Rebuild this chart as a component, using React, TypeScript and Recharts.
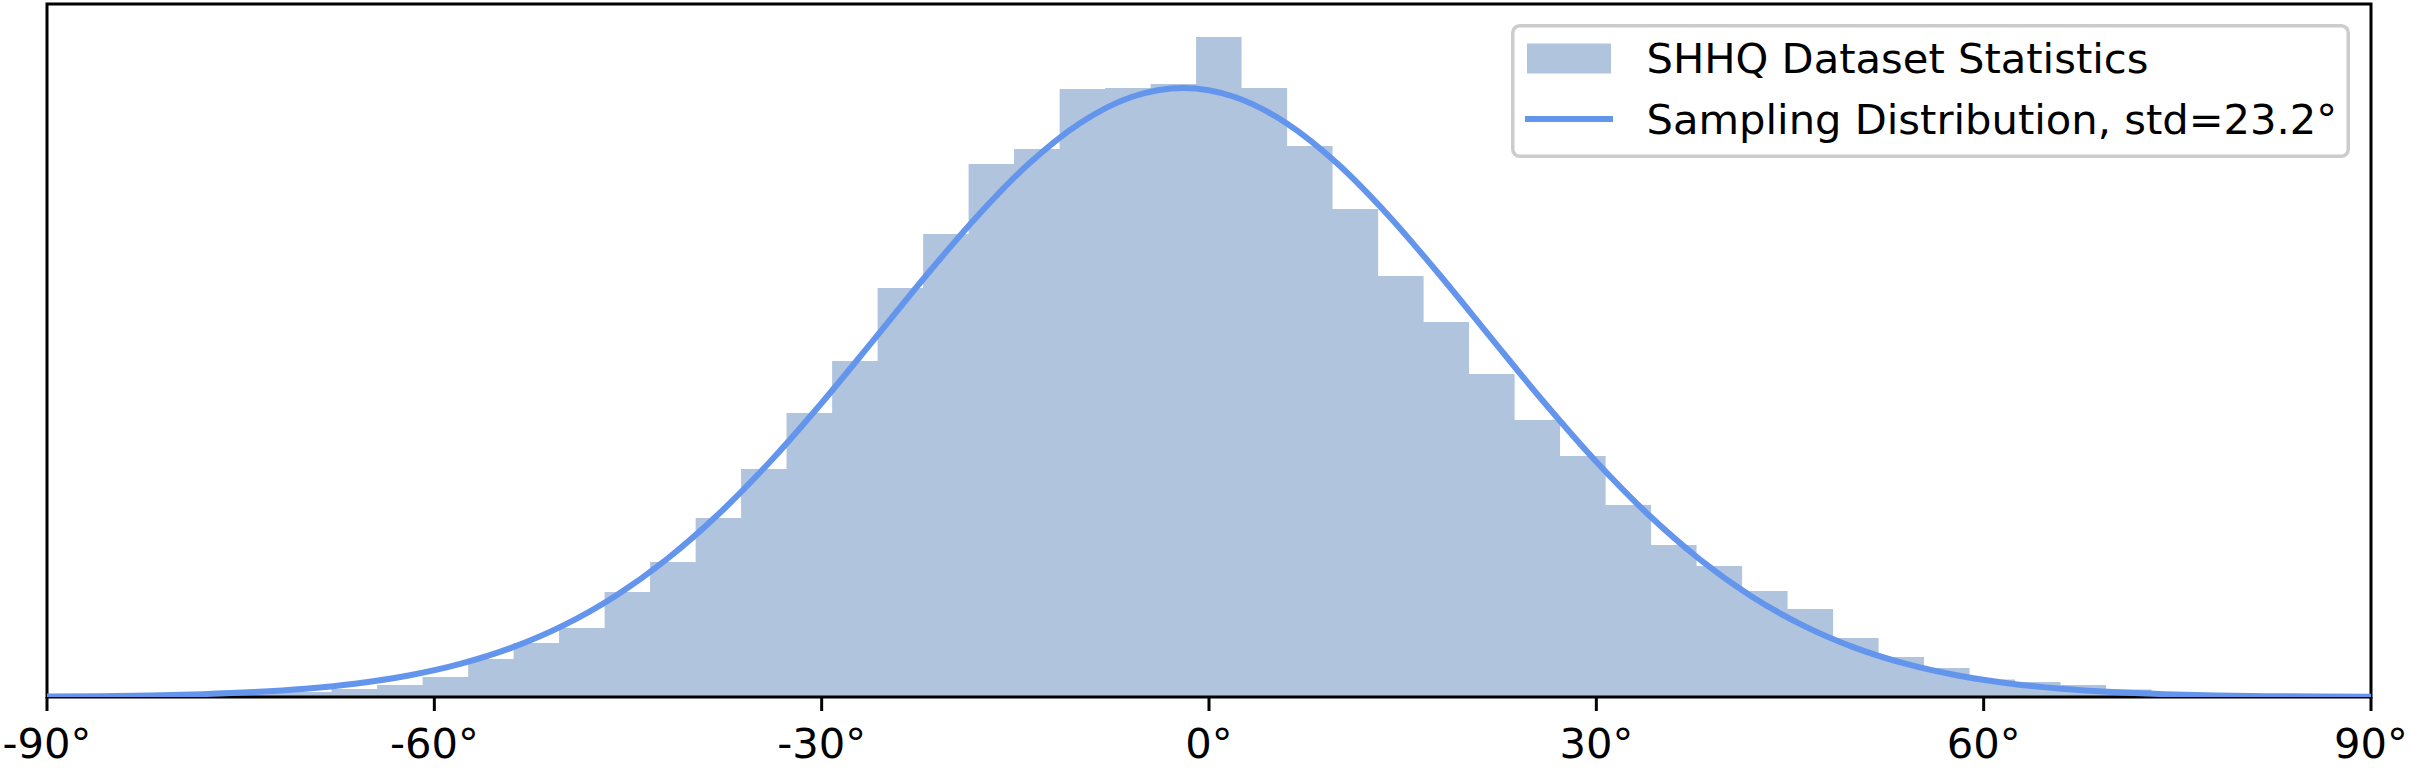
import {
  ComposedChart,
  Area,
  Line,
  XAxis,
  YAxis,
  ReferenceArea,
  Legend,
} from "recharts";

// histogram: 50 bins over the yaw angles (degrees), heights as density
const binEdges = [
  -89.1, -85.58, -82.05, -78.53, -75.0, -71.48, -67.96, -64.43, -60.91, -57.38,
  -53.86, -50.34, -46.81, -43.29, -39.76, -36.24, -32.72, -29.19, -25.67, -22.14,
  -18.62, -15.1, -11.57, -8.05, -4.52, -1.0, 2.52, 6.05, 9.57, 13.1,
  16.62, 20.14, 23.67, 27.19, 30.72, 34.24, 37.76, 41.29, 44.81, 48.34,
  51.86, 55.38, 58.91, 62.43, 65.96, 69.48, 73.0, 76.53, 80.05, 83.58,
  87.1,
];
const binDensity = [
  0.000014, 0.000028, 0.000028, 0.000056, 0.000113, 0.000141, 0.000226, 0.000339, 0.000565, 0.001073,
  0.001525, 0.001948, 0.002965, 0.003812, 0.005054, 0.006438, 0.008019, 0.009487, 0.011549, 0.013073,
  0.01505, 0.015473, 0.017167, 0.017196, 0.017309, 0.018636, 0.017196, 0.015558, 0.013779, 0.011887,
  0.010589, 0.00912, 0.007821, 0.006805, 0.005421, 0.004292, 0.003699, 0.002993, 0.002485, 0.001666,
  0.001129, 0.000819, 0.000494, 0.000424, 0.000339, 0.000212, 0.000113, 0.000056, 0.000028, 0.000028,
];

// sampling distribution curve (std 23.2°), every 4°
const curveX = [
  -90, -86, -82, -78, -74, -70, -66, -62, -58, -54, -50, -46, -42, -38, -34, -30,
  -26, -22, -18, -14, -10, -6, -2, 2, 6, 10, 14, 18, 22, 26, 30, 34,
  38, 42, 46, 50, 54, 58, 62, 66, 70, 74, 78, 82, 86, 90,
];
const curveDensity = [
  0.0000129, 0.0000245, 0.000045, 0.0000804, 0.000139, 0.000234, 0.000383, 0.000607,
  0.000934, 0.001395, 0.002023, 0.002847, 0.00389, 0.005159, 0.006642, 0.008301,
  0.01007, 0.011859, 0.013556, 0.015043, 0.016203, 0.016942, 0.017196, 0.016942,
  0.016203, 0.015043, 0.013556, 0.011859, 0.01007, 0.008301, 0.006642, 0.005159,
  0.00389, 0.002847, 0.002023, 0.001395, 0.000934, 0.000607, 0.000383, 0.000234,
  0.000139, 0.0000804, 0.000045, 0.0000245, 0.0000129, 0.0000066,
];

const xTicks = [-90, -60, -30, 0, 30, 60, 90];

const histName = "SHHQ Dataset Statistics";
const curveName = "Sampling Distribution, std=23.2°";

// step area: each edge carries the height of the bin to its right, last edge closes it
const histData = binEdges.map((x, i) => ({
  x,
  density: binDensity[Math.min(i, binDensity.length - 1)],
}));
const curveData = curveX.map((x, i) => ({ x, density: curveDensity[i] }));

const yMax = Math.max(...binDensity) * 1.05;

const FONT = "DejaVu Sans";
const FS = 41.67;

// eslint-disable-next-line @typescript-eslint/no-explicit-any
function LegendBox(props: any) {
  const items = [...(props.payload || [])].sort((a, b) =>
    a.type === "rect" ? -1 : b.type === "rect" ? 1 : 0
  );
  return (
    <svg width={839} height={134} style={{ display: "block" }}>
      <rect
        x={1.75}
        y={1.75}
        width={835.5}
        height={130.5}
        rx={7}
        fill="#fff"
        fillOpacity={0.8}
        stroke="#cccccc"
        strokeWidth={3.5}
      />
      {items.map((it, i) => {
        const cy = 34.5 + i * 60.5;
        return (
          <g key={it.value}>
            {it.type === "rect" ? (
              <rect x={16} y={cy - 15} width={84} height={30} fill={it.color} />
            ) : (
              <line x1={14} x2={102} y1={cy} y2={cy} stroke={it.color} strokeWidth={6} />
            )}
            <text x={135.5} y={cy + 14.5} fontFamily={FONT} fontSize={FS} fill="#000">
              {it.value}
            </text>
          </g>
        );
      })}
    </svg>
  );
}

export default function App() {
  return (
    <div
      style={{
        position: "absolute",
        left: 0,
        top: 0,
        width: 2410,
        height: 768,
        background: "#fff",
      }}
    >
      <ComposedChart
        width={2410}
        height={768}
        margin={{ top: 4, right: 39, bottom: 11, left: 47 }}
      >
        <XAxis
          type="number"
          dataKey="x"
          domain={[-90, 90]}
          ticks={xTicks}
          allowDataOverflow
          height={60}
          axisLine={false}
          tickSize={14}
          tickMargin={17}
          tickLine={{ stroke: "#000", strokeWidth: 3 }}
          tick={{ fontSize: FS, fill: "#000", fontFamily: FONT }}
          tickFormatter={(v: number) => `${v}°`}
          interval={0}
        />
        <YAxis type="number" domain={[0, yMax]} allowDataOverflow hide />
        <Area
          data={histData}
          dataKey="density"
          name={histName}
          type="stepAfter"
          fill="#b0c4de"
          fillOpacity={1}
          stroke="none"
          legendType="rect"
          isAnimationActive={false}
        />
        <Line
          data={curveData}
          dataKey="density"
          name={curveName}
          type="monotone"
          stroke="#6495ed"
          strokeWidth={6}
          dot={false}
          activeDot={false}
          legendType="line"
          isAnimationActive={false}
        />
        <ReferenceArea
          x1={-90}
          x2={90}
          y1={0}
          y2={yMax}
          fill="none"
          stroke="#000"
          strokeWidth={3}
          ifOverflow="visible"
        />
        <Legend
          layout="vertical"
          align="center"
          verticalAlign="middle"
          width={839}
          height={134}
          wrapperStyle={{ position: "absolute", left: 1511, top: 24, width: 839, height: 134 }}
          content={<LegendBox />}
        />
      </ComposedChart>
    </div>
  );
}
